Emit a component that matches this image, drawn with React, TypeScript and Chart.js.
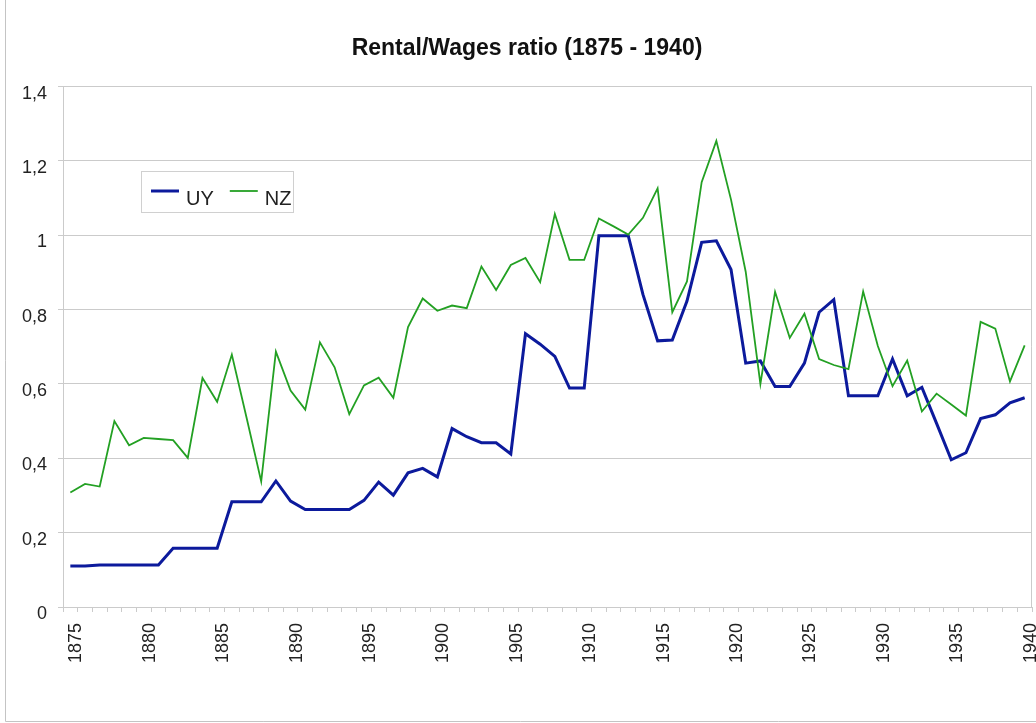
import React, { useEffect, useRef } from "react";
import { Chart, registerables } from "chart.js";

Chart.register(...registerables);

const years = [
  "1875", "1876", "1877", "1878", "1879", "1880", "1881", "1882", "1883", "1884",
  "1885", "1886", "1887", "1888", "1889", "1890", "1891", "1892", "1893", "1894",
  "1895", "1896", "1897", "1898", "1899", "1900", "1901", "1902", "1903", "1904",
  "1905", "1906", "1907", "1908", "1909", "1910", "1911", "1912", "1913", "1914",
  "1915", "1916", "1917", "1918", "1919", "1920", "1921", "1922", "1923", "1924",
  "1925", "1926", "1927", "1928", "1929", "1930", "1931", "1932", "1933", "1934",
  "1935", "1936", "1937", "1938", "1939", "1940",
];

const uyValues = [
  0.110, 0.110, 0.113, 0.113, 0.113, 0.113, 0.113, 0.158, 0.158, 0.158,
  0.158, 0.283, 0.283, 0.283, 0.339, 0.285, 0.262, 0.262, 0.262, 0.262,
  0.287, 0.336, 0.301, 0.361, 0.373, 0.350, 0.480, 0.458, 0.442, 0.442,
  0.412, 0.735, 0.707, 0.674, 0.589, 0.589, 0.999, 0.999, 0.999, 0.841,
  0.716, 0.718, 0.823, 0.981, 0.985, 0.908, 0.656, 0.662, 0.593, 0.593,
  0.656, 0.793, 0.827, 0.568, 0.568, 0.568, 0.667, 0.568, 0.591, 0.494,
  0.396, 0.415, 0.507, 0.517, 0.549, 0.563,
];

const nzValues = [
  0.308, 0.331, 0.324, 0.500, 0.435, 0.455, 0.452, 0.449, 0.401, 0.616,
  0.552, 0.679, 0.510, 0.338, 0.687, 0.582, 0.531, 0.712, 0.645, 0.519,
  0.596, 0.617, 0.563, 0.753, 0.830, 0.797, 0.811, 0.804, 0.916, 0.853,
  0.920, 0.939, 0.874, 1.057, 0.934, 0.934, 1.045, 1.024, 1.002, 1.047,
  1.126, 0.793, 0.876, 1.143, 1.254, 1.096, 0.902, 0.600, 0.848, 0.724,
  0.789, 0.667, 0.651, 0.640, 0.849, 0.702, 0.594, 0.663, 0.526, 0.574,
  0.545, 0.515, 0.767, 0.749, 0.607, 0.704,
];

const seriesNames = ["UY", "NZ"];
const titleText = "Rental/Wages ratio (1875 - 1940)";

const FONT = "'Liberation Sans', Arial, Helvetica, sans-serif";
const GRID = "#cbcbcb";

const decorPlugin = {
  id: "decor",
  beforeDraw(chart: any) {
    const { ctx, width, height } = chart;
    ctx.save();
    ctx.fillStyle = "#ffffff";
    ctx.fillRect(0, 0, width, height);
    ctx.strokeStyle = "#c4c4c4";
    ctx.lineWidth = 1;
    ctx.beginPath();
    ctx.moveTo(5.5, 0);
    ctx.lineTo(5.5, 721.5);
    ctx.lineTo(width, 721.5);
    ctx.stroke();
    ctx.restore();
  },
  afterDraw(chart: any) {
    const { ctx, chartArea } = chart;
    ctx.save();
    // right frame of the plot area
    ctx.strokeStyle = GRID;
    ctx.lineWidth = 1;
    ctx.beginPath();
    ctx.moveTo(Math.round(chartArea.right) - 0.5, chartArea.top);
    ctx.lineTo(Math.round(chartArea.right) - 0.5, chartArea.bottom);
    ctx.stroke();

    // legend box
    const x0 = 141.5, y0 = 171.5, w = 152, h = 41;
    ctx.fillStyle = "#ffffff";
    ctx.fillRect(x0, y0, w, h);
    ctx.strokeStyle = "#d0d0d0";
    ctx.strokeRect(x0, y0, w, h);
    ctx.font = `20px ${FONT}`;
    ctx.textBaseline = "alphabetic";
    ctx.textAlign = "left";
    let x = 151;
    chart.data.datasets.forEach((ds: any) => {
      ctx.strokeStyle = ds.borderColor;
      ctx.lineWidth = ds.borderWidth;
      ctx.beginPath();
      ctx.moveTo(x, 191);
      ctx.lineTo(x + 28, 191);
      ctx.stroke();
      ctx.fillStyle = "#222222";
      ctx.fillText(ds.label, x + 35, 205);
      x += 35 + ctx.measureText(ds.label).width + 16;
    });
    ctx.restore();
  },
};

export default function App() {
  const ref = useRef<HTMLCanvasElement | null>(null);

  useEffect(() => {
    if (!ref.current) return;
    const chart = new Chart(ref.current, {
      type: "line",
      data: {
        labels: years,
        datasets: [
          {
            label: seriesNames[0],
            data: uyValues,
            borderColor: "#0c1a9c",
            backgroundColor: "#0c1a9c",
            borderWidth: 3,
            pointRadius: 0,
            tension: 0,
            order: 2,
          },
          {
            label: seriesNames[1],
            data: nzValues,
            borderColor: "#23a023",
            backgroundColor: "#23a023",
            borderWidth: 1.8,
            pointRadius: 0,
            tension: 0,
            order: 1,
          },
        ],
      },
      options: {
        responsive: false,
        animation: false,
        layout: { padding: { left: 22, right: 4, top: 0, bottom: 0 } },
        plugins: {
          legend: { display: false },
          tooltip: { enabled: false },
          title: {
            display: true,
            text: titleText,
            color: "#111111",
            font: { family: FONT, size: 23, weight: "bold" },
            padding: { top: 35, bottom: 24 },
          },
        },
        scales: {
          x: {
            type: "category",
            offset: true,
            afterFit: (s: any) => {
              s.height = 116;
              s.paddingLeft = 0;
              s.paddingRight = 0;
            },
            grid: {
              display: true,
              drawOnChartArea: false,
              drawTicks: true,
              tickLength: 5,
              offset: true,
              color: GRID,
            },
            border: { display: true, color: GRID },
            ticks: {
              autoSkip: false,
              maxRotation: 90,
              minRotation: 90,
              padding: 11,
              labelOffset: 6,
              color: "#222222",
              font: { family: FONT, size: 18 },
              callback: function (this: any, value: any) {
                const lab = this.getLabelForValue(value);
                return Number(lab) % 5 === 0 ? lab : "";
              },
            },
          },
          y: {
            min: 0,
            max: 1.4,
            afterFit: (s: any) => {
              s.width = 41;
            },
            grid: {
              color: GRID,
              tickLength: 5,
            },
            border: { display: true, color: GRID },
            ticks: {
              stepSize: 0.2,
              padding: 11,
              labelOffset: 7,
              color: "#222222",
              font: { family: FONT, size: 18 },
              callback: (v: any) =>
                String(Number(Number(v).toFixed(1))).replace(".", ","),
            },
          },
        },
      },
      plugins: [decorPlugin],
    });
    return () => chart.destroy();
  }, []);

  return (
    <div style={{ position: "absolute", left: 0, top: 0, width: 1036, height: 723 }}>
      <canvas ref={ref} width={1036} height={723} />
    </div>
  );
}
